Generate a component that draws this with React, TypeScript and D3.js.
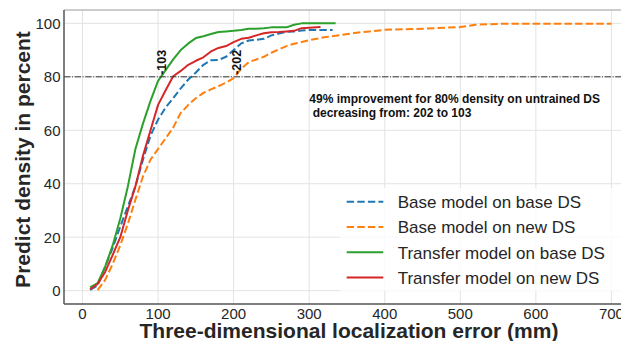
import * as d3 from "d3"

// localization error (mm) sampled for each curve
const errBase = [10, 20, 30, 40, 50, 60, 70, 80, 90, 100, 110, 120, 130, 140, 150, 160, 170, 180, 190, 200, 210, 220, 230, 240, 250, 260, 270, 280, 290, 300, 331]
const baseOnBase = [0.3, 2, 9, 16, 24, 31.5, 39, 49, 58, 64, 68.5, 72, 75.7, 79, 81.6, 84.5, 86.2, 86.3, 87.5, 90, 92.5, 93.6, 93.8, 94.2, 95.5, 96.2, 96.8, 97, 97.3, 97.5, 97.5]

const errNew = [20, 30, 40, 50, 60, 70, 80, 90, 100, 110, 120, 130, 140, 150, 160, 170, 180, 190, 200, 210, 220, 230, 240, 250, 260, 270, 280, 290, 300, 320, 340, 360, 380, 400, 450, 500, 520, 560, 700]
const baseOnNew = [0.2, 4, 10, 17, 25, 34, 42.7, 49, 53, 57, 61, 66.5, 69.5, 72, 74, 75.3, 76.5, 77.8, 79.5, 83, 85.5, 86.5, 87.5, 89, 90.3, 91.5, 92.4, 93, 93.7, 94.8, 95.6, 96.4, 97, 97.6, 98, 98.6, 99.5, 99.9, 99.9]

const errTransferBase = [10, 20, 30, 40, 50, 60, 70, 80, 90, 100, 110, 120, 130, 140, 150, 160, 170, 180, 190, 200, 210, 220, 230, 240, 250, 260, 270, 280, 290, 300, 335]
const transferOnBase = [1.2, 2.8, 9, 17, 27, 39, 53, 62.5, 71, 78.5, 82.5, 86.5, 90, 92.5, 94.5, 95.2, 96, 96.8, 97, 97.2, 97.5, 98, 98, 98.2, 98.5, 98.5, 98.5, 99.5, 100, 100, 100]

const errTransferNew = [10, 20, 30, 40, 50, 60, 70, 80, 90, 100, 110, 120, 130, 140, 150, 160, 170, 180, 190, 200, 210, 220, 230, 240, 250, 260, 270, 280, 290, 300, 315]
const transferOnNew = [0.5, 2.5, 7, 13.4, 20, 30, 39, 50.5, 60, 69.5, 75, 80.2, 82.2, 84.5, 86, 87.3, 89.5, 90.8, 91.5, 93, 94.2, 94.6, 95.5, 96.3, 96.7, 96.8, 97, 97.2, 98.2, 98.4, 98.6]

const xTicks = [0, 100, 200, 300, 400, 500, 600, 700]
const yTicks = [0, 20, 40, 60, 80, 100]
const threshold = 80
const markNew = 202
const markTransfer = 103

const series = [
  { label: "Base model on base DS", x: errBase, y: baseOnBase, color: "#1f77b4", dash: "7.4,3.2" },
  { label: "Base model on new DS", x: errNew, y: baseOnNew, color: "#ff7f0e", dash: "7.4,3.2" },
  { label: "Transfer model on base DS", x: errTransferBase, y: transferOnBase, color: "#2ca02c", dash: null },
  { label: "Transfer model on new DS", x: errTransferNew, y: transferOnNew, color: "#d62728", dash: null },
]

const W = 621
const H = 341
const font = "'Liberation Sans', Arial, sans-serif"
const ink = "#262626"

export default function App() {
  const x = d3.scaleLinear().domain([-24.5, 734.5]).range([64, 637.5])
  const y = d3.scaleLinear().domain([-5, 105]).range([304, 10])

  const line = d3
    .line<[number, number]>()
    .x((d) => x(d[0]))
    .y((d) => y(d[1]))

  const left = x.range()[0]
  const right = x.range()[1]
  const top = y.range()[1]
  const bottom = y.range()[0]

  return (
    <svg width={W} height={H} style={{ position: "absolute", left: 0, top: 0, background: "#fff" }} fontFamily={font}>
      <defs>
        <clipPath id="plot">
          <rect x={left} y={top} width={right - left} height={bottom - top} />
        </clipPath>
      </defs>

      {/* grid */}
      {xTicks.map((t) => (
        <line key={"gx" + t} x1={x(t)} x2={x(t)} y1={top} y2={bottom} stroke="#e3e3e3" strokeWidth={1} />
      ))}
      {yTicks.map((t) => (
        <line key={"gy" + t} x1={left} x2={right} y1={y(t)} y2={y(t)} stroke="#e3e3e3" strokeWidth={1} />
      ))}

      {/* curves */}
      <g clipPath="url(#plot)">
        {series.map((s) => (
          <path
            key={s.label}
            d={line(s.x.map((v, i) => [v, s.y[i]] as [number, number])) || ""}
            fill="none"
            stroke={s.color}
            strokeWidth={2}
            strokeDasharray={s.dash || undefined}
            strokeLinejoin="round"
          />
        ))}
        <line x1={left} x2={right} y1={y(threshold)} y2={y(threshold)} stroke="#333" strokeWidth={1} strokeDasharray="6.4,1.6,1,1.6" />
      </g>

      {/* annotations */}
      <text
        transform={`translate(${x(markTransfer) + 5.5},${y(threshold) - 2}) rotate(-90)`}
        fontSize={12.5}
        fontWeight="bold"
        fill="#111"
      >
        {"-" + markTransfer}
      </text>
      <text
        transform={`translate(${x(markNew) + 5.5},${y(threshold) - 2}) rotate(-90)`}
        fontSize={12.5}
        fontWeight="bold"
        fill="#111"
      >
        {"-" + markNew}
      </text>
      <text x={309.3} y={103} fontSize={12} fontWeight="bold" fill="#111">
        49% improvement for 80% density on untrained DS
      </text>
      <text x={309.3} y={116.5} fontSize={12} fontWeight="bold" fill="#111" xmlSpace="preserve">
        {" decreasing from: " + markNew + " to " + markTransfer}
      </text>

      {/* spines */}
      <line x1={left} x2={right} y1={top} y2={top} stroke="#9a9a9a" strokeWidth={1.2} />
      <line x1={left} x2={left} y1={top} y2={bottom} stroke="#555" strokeWidth={1.5} />
      <line x1={left} x2={right} y1={bottom} y2={bottom} stroke="#555" strokeWidth={1.5} />

      {/* tick labels */}
      {xTicks.map((t) => (
        <text key={"tx" + t} x={x(t)} y={318.5} textAnchor="middle" fontSize={15} fill={ink}>
          {t}
        </text>
      ))}
      {yTicks.map((t) => (
        <text key={"ty" + t} x={60.5} y={y(t) + 5.5} textAnchor="end" fontSize={15} fill={ink}>
          {t}
        </text>
      ))}

      {/* axis labels */}
      <text x={349} y={337.5} textAnchor="middle" fontSize={21} fontWeight="bold" fill={ink}>
        Three-dimensional localization error (mm)
      </text>
      <text transform="translate(30,159.5) rotate(-90)" textAnchor="middle" fontSize={21} fontWeight="bold" fill={ink}>
        Predict density in percent
      </text>

      {/* legend */}
      <g>
        <rect x={340} y={188} width={290} height={103} fill="#fff" fillOpacity={0.8} />
        {series.map((s, i) => {
          const cy = 201.7 + i * 25.3
          return (
            <g key={"lg" + s.label}>
              <line x1={346.7} x2={383.3} y1={cy} y2={cy} stroke={s.color} strokeWidth={2} strokeDasharray={s.dash || undefined} />
              <text x={397.7} y={cy + 6.4} fontSize={17} fill={ink}>
                {s.label}
              </text>
            </g>
          )
        })}
      </g>
    </svg>
  )
}
